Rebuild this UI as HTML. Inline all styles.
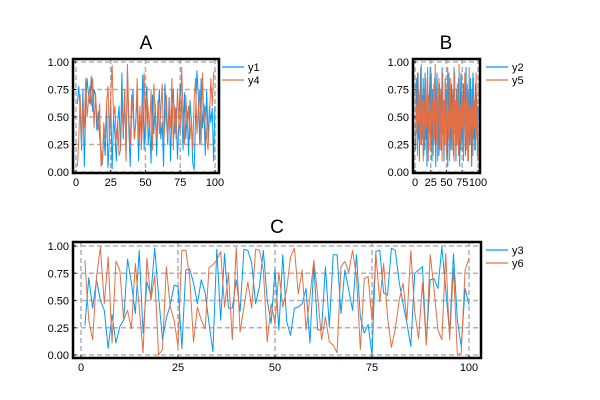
<!DOCTYPE html>
<html><head><meta charset="utf-8"><style>
body{margin:0;background:#fff;}
svg{display:block;font-family:"Liberation Sans","DejaVu Sans",sans-serif;}
</style></head><body>
<svg id="chart" width="600" height="400" viewBox="0 0 600 400" xmlns="http://www.w3.org/2000/svg"></svg>
<script>
const xTicks=[0,25,50,75,100];
const yTicks=[0,0.25,0.5,0.75,1];
const yTickLabels=["0.00","0.25","0.50","0.75","1.00"];
const seriesNames=["y1","y2","y3","y4","y5","y6"];
const y1=[0.62,0.78,0.55,0.2,0.75,0.05,0.6,0.85,0.7,0.62,0.87,0.55,0.75,0.7,0.38,0.55,0.32,0.2,0.07,0.35,0.15,0.6,0.04,0.3,0.62,0.03,0.5,0.35,0.1,0.45,0.6,0.2,0.9,0.3,0.75,0.15,0.92,0.4,0.05,0.55,0.75,0.3,0.45,0.7,0.1,0.5,0.35,0.88,0.2,0.6,0.78,0.25,0.45,0.08,0.7,0.35,0.62,0.15,0.55,0.75,0.3,0.45,0.05,0.8,0.5,0.25,0.68,0.1,0.55,0.75,0.35,0.58,0.12,0.45,0.8,0.6,0.2,0.72,0.3,0.55,0.15,0.65,0.45,0.08,0.02,0.5,0.92,0.7,0.25,0.85,0.4,0.62,0.15,0.75,0.3,0.6,0.45,0.58,0.1,0.6];
const y4=[0.05,0.3,0.7,0.25,0.6,0.4,0.85,0.5,0.65,0.78,0.6,0.85,0.4,0.72,0.5,0.38,0.62,0.05,0.1,0.45,0.3,0.62,0.78,0.3,0.7,0.97,0.5,0.6,0.3,0.45,0.15,0.2,0.6,0.35,0.75,0.1,0.98,0.5,0.25,0.7,0.55,0.3,0.45,0.85,0.3,0.6,0.2,0.5,0.9,0.3,0.7,0.55,0.35,0.75,0.2,0.8,0.5,0.3,0.65,0.35,0.55,0.8,0.25,0.45,0.7,0.3,0.6,0.4,0.85,0.2,0.6,0.3,0.75,0.45,0.35,0.95,0.55,0.25,0.7,0.4,0.6,0.3,0.5,0.2,0.65,0.85,0.35,0.55,0.75,0.25,0.9,0.45,0.6,0.3,0.2,0.5,0.85,0.6,0.9,0.92];
const y2=[0.2,0.85,0.5,0.9,0.3,0.75,0.1,0.6,0.95,0.25,0.7,0.4,0.85,0.15,0.55,0.9,0.3,0.65,0.05,0.8,0.45,0.2,0.7,0.95,0.35,0.6,0.1,0.75,0.5,0.25,0.85,0.4,0.05,0.65,0.9,0.3,0.55,0.15,0.8,0.45,0.7,0.2,0.95,0.35,0.6,0.1,0.5,0.85,0.25,0.75,0.4,0.05,0.65,0.9,0.3,0.55,0.2,0.8,0.45,0.7,0.15,0.95,0.35,0.6,0.1,0.75,0.5,0.25,0.85,0.4,0.05,0.65,0.9,0.3,0.55,0.2,0.8,0.45,0.7,0.15,0.95,0.35,0.6,0.1,0.75,0.5,0.25,0.85,0.4,0.05,0.65,0.9,0.3,0.55,0.2,0.8,0.45,0.7,0.15,0.6];
const y5=[0.8,0.35,0.6,0.15,0.9,0.45,0.7,0.25,0.55,0.98,0.3,0.65,0.1,0.75,0.5,0.2,0.85,0.4,0.6,0.95,0.1,0.7,0.35,0.55,0.2,0.9,0.45,0.65,0.15,0.8,0.3,0.98,0.5,0.25,0.7,0.1,0.6,0.85,0.4,0.2,0.75,0.55,0.1,0.9,0.35,0.65,0.25,0.8,0.45,0.15,0.7,0.95,0.3,0.55,0.1,0.85,0.4,0.6,0.2,0.75,0.5,0.1,0.9,0.35,0.65,0.25,0.8,0.45,0.15,0.98,0.3,0.6,0.2,0.85,0.4,0.7,0.1,0.55,0.9,0.3,0.65,0.2,0.8,0.45,0.1,0.95,0.35,0.6,0.25,0.75,0.5,0.15,0.85,0.4,0.65,0.2,0.9,0.3,0.6,0.1];
const y3=[0.27,0.71,0.43,0.69,0.50,0.41,0.06,0.37,0.11,0.26,0.32,0.88,0.66,0.38,0.96,0.20,0.67,0.55,0.98,0.54,0.14,0.34,0.46,0.64,
0.63,0.06,0.78,0.79,0.66,0.47,0.69,0.57,0.29,0.03,0.97,0.32,0.93,0.43,0.43,0.69,0.40,0.97,0.96,0.84,0.47,0.63,0.96,0.50,0.29,0.78,
0.23,0.92,0.31,0.18,0.43,0.44,0.47,0.61,0.11,0.83,0.23,0.23,0.81,0.26,0.92,0.92,0.38,0.78,0.60,0.41,0.92,0.35,0.20,0.28,0.0,
0.95,0.96,0.57,0.55,0.98,0.96,0.67,0.47,0.29,0.08,0.75,0.78,0.81,0.11,0.69,0.70,0.61,0.99,0.60,0.20,0.93,0.32,0.08,0.61,0.46];
const y6=[0.87,0.32,0.14,0.72,0.99,0.47,0.90,0.11,0.86,0.78,0.32,0.41,0.24,0.84,0.44,0.02,0.89,0.50,0.73,0.0,0.05,0.81,0.44,0.32,
0.08,0.96,0.96,0.72,0.12,0.44,0.32,0.24,0.80,0.83,0.87,0.95,0.44,0.75,0.14,0.99,0.21,0.44,0.67,0.43,0.97,0.96,0.78,0.12,0.47,0.29,
0.76,0.44,0.60,0.90,0.98,0.56,0.78,0.23,0.53,0.87,0.55,0.14,0.35,0.12,0.09,0.02,0.81,0.86,0.76,0.96,0.72,0.05,0.70,0.72,0.32,
0.93,0.49,0.84,0.35,0.07,0.24,0.50,0.66,0.32,0.96,0.40,0.15,0.66,0.09,0.92,0.60,0.23,0.14,0.93,0.14,0.80,0.0,0.02,0.78,0.89];

const NS="http://www.w3.org/2000/svg";
const svg=document.getElementById('chart');
const BLUE="#009af9", ORANGE="#e26f46";
function mk(tag,attrs,parent){const e=document.createElementNS(NS,tag);for(const k in attrs)e.setAttribute(k,attrs[k]);(parent||svg).appendChild(e);return e;}

const panels=[
 {id:"a",title:"A",fx0:73,fx1:219,fy0:59,fy1:173,gx0:76,gx1:215,gy1:62,gy0:172,tx:146,ty:49,s:[y1,y4],names:[seriesNames[0],seriesNames[3]],lx:222,ly:67},
 {id:"b",title:"B",fx0:413,fx1:480,fy0:59,fy1:173,gx0:415,gx1:478,gy1:62,gy0:172,tx:446,ty:49,s:[y2,y5],names:[seriesNames[1],seriesNames[4]],lx:486,ly:67},
 {id:"c",title:"C",fx0:73,fx1:481,fy0:242,fy1:358,gx0:81,gx1:469,gy1:246,gy0:355,tx:277,ty:233,s:[y3,y6],names:[seriesNames[2],seriesNames[5]],lx:486,ly:250}
];
panels.forEach(p=>{
  const g=mk('g',{});
  
  
  const X=v=>p.gx0+(v/100)*(p.gx1-p.gx0);
  const Y=v=>p.gy0-v*(p.gy0-p.gy1);
  xTicks.forEach(t=>{const l=mk('line',{x1:X(t),x2:X(t),y1:p.fy0,y2:p.fy1,stroke:"#b0b0b0","stroke-width":1.5,"stroke-dasharray":"5,3"},g);
    
    const tx=mk('text',{x:X(t),y:p.fy1+13,"font-size":11,"text-anchor":"middle",fill:"#000"},g);tx.textContent=t;
    
    mk('line',{x1:X(t),x2:X(t),y1:p.fy1,y2:p.fy1-3,stroke:"#000","stroke-width":1},g);});
  yTicks.forEach((t,i)=>{const l=mk('line',{x1:p.fx0,x2:p.fx1,y1:Y(t),y2:Y(t),stroke:"#b0b0b0","stroke-width":1.5,"stroke-dasharray":"5,3"},g);
    
    const tx=mk('text',{x:p.fx0-4,y:Y(t)+4,"font-size":11,"text-anchor":"end",fill:"#000"},g);tx.textContent=yTickLabels[i];
    
    mk('line',{x1:p.fx0,x2:p.fx0+3,y1:Y(t),y2:Y(t),stroke:"#000","stroke-width":1},g);});
  [BLUE,ORANGE].forEach((c,k)=>{
    const d=p.s[k].map((v,i)=>(i?'L':'M')+X(i+1).toFixed(2)+','+Y(v).toFixed(2)).join('');
    const path=mk('path',{d:d,fill:"none",stroke:c,"stroke-width":1,"stroke-linejoin":"round"},g);
    
    
    const ll=mk('line',{x1:p.lx,x2:p.lx+22,y1:p.ly+k*13,y2:p.ly+k*13,stroke:c,"stroke-width":1.2},g);
    
    const lt=mk('text',{x:p.lx+26,y:p.ly+k*13+4,"font-size":11,fill:"#000"},g);lt.textContent=p.names[k];
    
  });
  const fr=mk('rect',{x:p.fx0,y:p.fy0,width:p.fx1-p.fx0,height:p.fy1-p.fy0,fill:"none",stroke:"#000","stroke-width":2.5},g);
  
  const tt=mk('text',{x:p.tx,y:p.ty,"font-size":19,"text-anchor":"middle",fill:"#000"},g);tt.textContent=p.title;
  
});
</script>
</body></html>
